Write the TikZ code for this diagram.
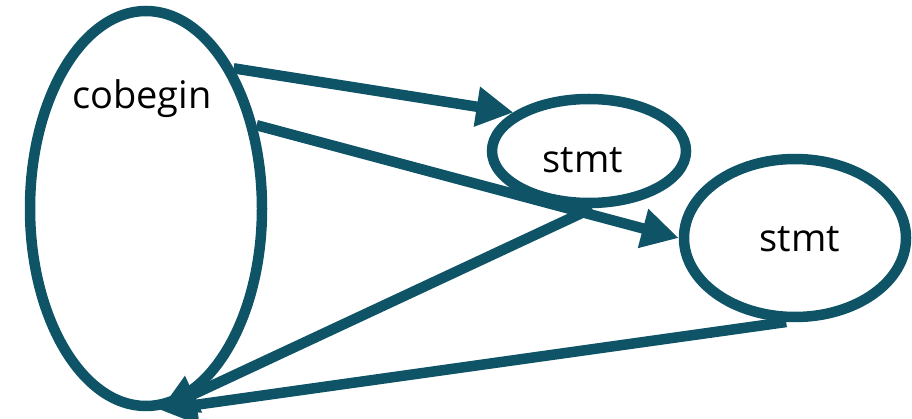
\documentclass[tikz,border=0pt]{standalone}
\usepackage{fontspec}
\setmainfont{Open Sans}
\usetikzlibrary{shapes.geometric,arrows.meta}
\definecolor{teal}{HTML}{0F5466}
\tikzset{
  oval/.style={ellipse,draw=teal,line width=10.5pt,inner sep=0pt,fill=white},
  lbl/.style={font=\fontsize{38}{40}\selectfont,anchor=base,text=black},
  conn/.style={draw=teal,line width=10.5pt,-{Triangle[length=37pt,width=38pt]}}
}
\begin{document}
\begin{tikzpicture}[x=1pt,y=-1pt]
\useasboundingbox (0,0) rectangle (912,419);
\node[oval,minimum width=232pt,minimum height=395pt] (big) at (146,208.5) {};
\node[oval,minimum width=194pt,minimum height=104pt] (s1) at (589,151) {};
\node[oval,minimum width=222pt,minimum height=158pt] (s2) at (795,238) {};
\node[lbl] (tbig) at (142,109) {cobegin};
\node[lbl] (ts1) at (583,173) {stmt};
\node[lbl] (ts2) at (800,252) {stmt};
\draw[conn] (big.58) -- (s1.153);
\draw[conn] (big.37) -- (s2.180);
\draw[conn] (s1.-87) -- (big.-86);
\draw[conn] (s2.-96) -- (big.-86);
\end{tikzpicture}
\end{document}
